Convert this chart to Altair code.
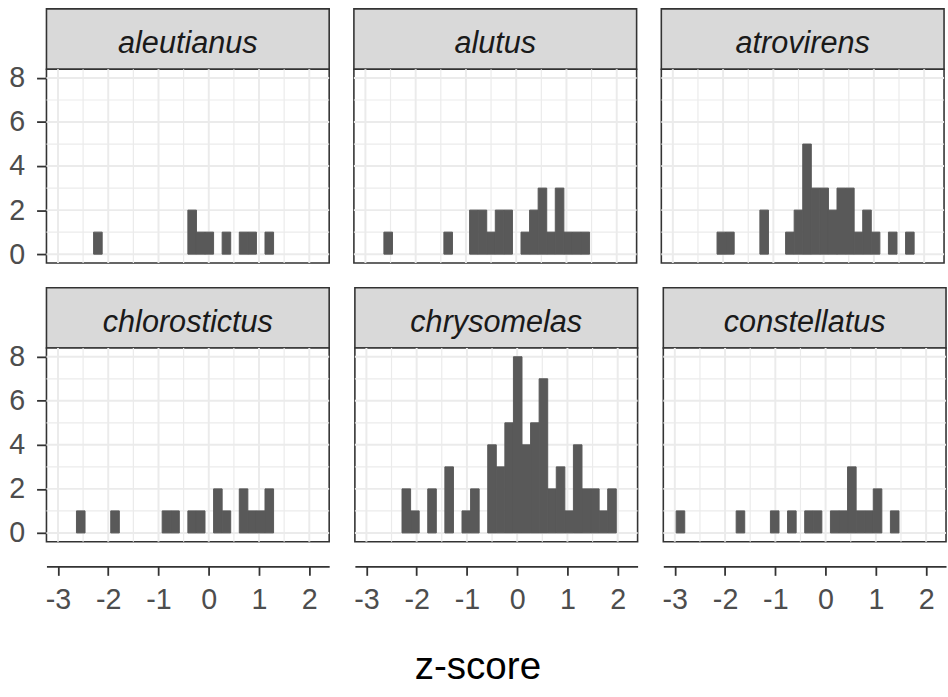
import altair as alt
import pandas as pd

FONT = "Liberation Sans"

SPECIES = ["aleutianus", "alutus", "atrovirens",
           "chlorostictus", "chrysomelas", "constellatus"]

# histogram bins shared by every panel (30 bins)
BIN_START = -2.973
BIN_WIDTH = 0.1705

# counts per bin, left to right
aleutianus = [0, 0, 0, 0, 1, 0, 0, 0, 0, 0, 0, 0, 0, 0, 0,
              2, 1, 1, 0, 1, 0, 1, 1, 0, 1, 0, 0, 0, 0, 0]
alutus = [0, 0, 1, 0, 0, 0, 0, 0, 0, 1, 0, 0, 2, 2, 1,
          2, 2, 0, 1, 2, 3, 1, 3, 1, 1, 1, 0, 0, 0, 0]
atrovirens = [0, 0, 0, 0, 0, 1, 1, 0, 0, 0, 2, 0, 0, 1, 2,
              5, 3, 3, 2, 3, 3, 1, 2, 1, 0, 1, 0, 1, 0, 0]
chlorostictus = [0, 0, 1, 0, 0, 0, 1, 0, 0, 0, 0, 0, 1, 1, 0,
                 1, 1, 0, 2, 1, 0, 2, 1, 1, 2, 0, 0, 0, 0, 0]
chrysomelas = [0, 0, 0, 0, 2, 1, 0, 2, 0, 3, 0, 1, 2, 0, 4,
               3, 5, 8, 4, 5, 7, 2, 3, 1, 4, 2, 2, 1, 2, 0]
constellatus = [1, 0, 0, 0, 0, 0, 0, 1, 0, 0, 0, 1, 0, 1, 0,
                1, 1, 0, 1, 1, 3, 1, 1, 2, 0, 1, 0, 0, 0, 0]

COUNTS = [aleutianus, alutus, atrovirens, chlorostictus, chrysomelas, constellatus]

X_DOMAIN = [-3.229, 2.396]
Y_DOMAIN = [-0.4, 8.4]
X_BREAKS = [-3, -2, -1, 0, 1, 2]
X_MINOR = [-2.5, -1.5, -0.5, 0.5, 1.5]
Y_BREAKS = [0, 2, 4, 6, 8]
Y_MINOR = [1, 3, 5, 7]

PW, PH, STRIP_H = 286, 196, 61
BAR_FILL = "#595959"
GRID = "#EBEBEB"
DARK = "#333333"
LABEL_SIZE = 29


def histogram_panel(name, counts, left, bottom):
    xscale = alt.Scale(domain=X_DOMAIN, nice=False, zero=False)
    yscale = alt.Scale(domain=Y_DOMAIN, nice=False, zero=False)
    if bottom:
        xaxis = alt.Axis(values=X_BREAKS, labelExpr="'' + datum.value", offset=25,
                         tickSize=9, tickWidth=1.8, tickColor=DARK,
                         domainColor=DARK, domainWidth=1.8,
                         labelFont=FONT, labelFontSize=LABEL_SIZE, labelColor="#4D4D4D",
                         labelPadding=11, grid=False, title=None)
    else:
        xaxis = None
    if left:
        yaxis = alt.Axis(values=Y_BREAKS, tickSize=10, tickWidth=1.8, tickColor=DARK,
                         domain=False, labelFont=FONT, labelFontSize=LABEL_SIZE,
                         labelColor="#4D4D4D", labelPadding=12, grid=False, title=None)
    else:
        yaxis = None

    def xenc(field):
        return alt.X(field, type="quantitative", scale=xscale, axis=xaxis)

    def yenc(field):
        return alt.Y(field, type="quantitative", scale=yscale, axis=yaxis)

    minor_x = alt.Chart(pd.DataFrame({"v": X_MINOR})).mark_rule(
        color=GRID, strokeWidth=1.2).encode(x=xenc("v"))
    major_x = alt.Chart(pd.DataFrame({"v": X_BREAKS})).mark_rule(
        color=GRID, strokeWidth=2).encode(x=xenc("v"))
    minor_y = alt.Chart(pd.DataFrame({"v": Y_MINOR})).mark_rule(
        color=GRID, strokeWidth=1.2).encode(y=yenc("v"))
    major_y = alt.Chart(pd.DataFrame({"v": Y_BREAKS})).mark_rule(
        color=GRID, strokeWidth=2).encode(y=yenc("v"))

    rows = [
        {"lo": BIN_START + k * BIN_WIDTH, "hi": BIN_START + (k + 1) * BIN_WIDTH, "n": c}
        for k, c in enumerate(counts) if c > 0
    ]
    bars = alt.Chart(pd.DataFrame(rows)).mark_rect(
        color=BAR_FILL, stroke=BAR_FILL, strokeWidth=1
    ).encode(x=xenc("lo"), x2="hi", y=yenc("n"), y2=alt.datum(0))

    hist = alt.layer(minor_x, major_x, minor_y, major_y, bars).properties(
        width=PW, height=PH,
        view=alt.ViewBackground(fill="white", stroke=DARK, strokeWidth=1.6),
    )

    strip = alt.Chart(pd.DataFrame({"label": [name]})).mark_text(
        font=FONT, fontSize=31, fontStyle="italic", color="#1A1A1A",
        baseline="alphabetic", align="center",
    ).encode(x=alt.value(PW / 2), y=alt.value(45), text="label:N").properties(
        width=PW, height=STRIP_H,
        view=alt.ViewBackground(fill="#D9D9D9", stroke=DARK, strokeWidth=1.6),
    )
    return alt.vconcat(strip, hist, spacing=0, bounds="flush")


panels = [
    histogram_panel(name, counts, left=(i % 3 == 0), bottom=(i >= 3))
    for i, (name, counts) in enumerate(zip(SPECIES, COUNTS))
]

row1 = alt.hconcat(*panels[:3], spacing=21)
row2 = alt.hconcat(*panels[3:], spacing=21)

chart = alt.vconcat(row1, row2, spacing=17).properties(
    padding={"left": 8, "top": 4, "right": 0, "bottom": 0},
    title=alt.TitleParams("z-score", orient="bottom", anchor="middle",
                          font=FONT, fontSize=39, fontWeight="normal",
                          color="black", offset=33),
).configure(font=FONT)

chart.save("out.html", embed_options={"renderer": "svg", "actions": False})
